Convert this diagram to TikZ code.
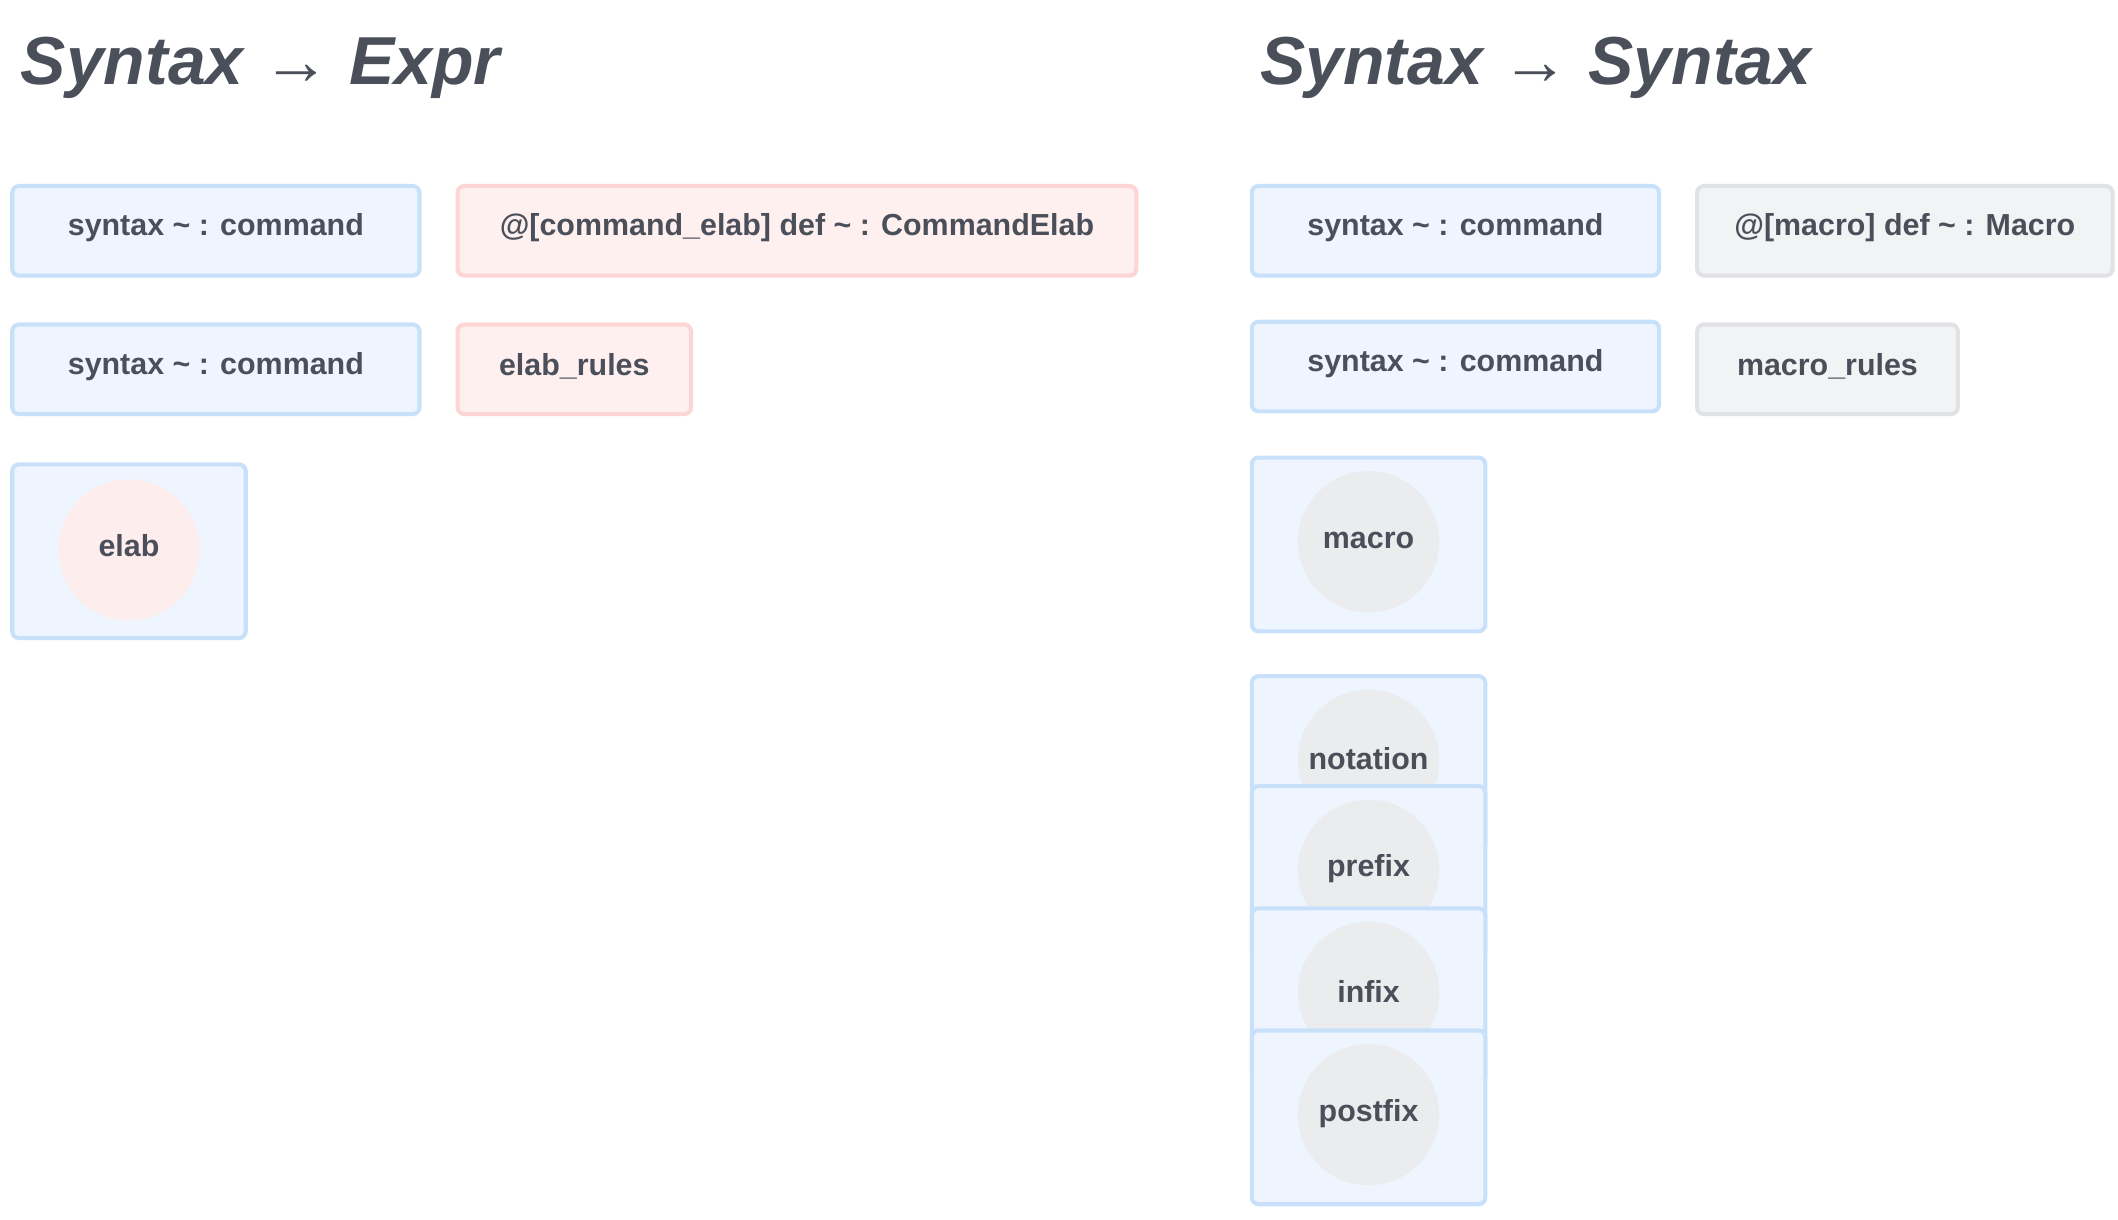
\documentclass[tikz,border=0pt]{standalone}
\usepackage{fontspec}
\setmainfont{Liberation Sans}
\begin{document}
\begin{tikzpicture}[x=0.5pt,y=-0.5pt]
\definecolor{txt}{HTML}{4A4F5A}
\definecolor{bfill}{HTML}{EEF5FE}\definecolor{bdraw}{HTML}{C9E0FB}
\definecolor{rfill}{HTML}{FFF0F0}\definecolor{rdraw}{HTML}{FDD5D5}
\definecolor{gfill}{HTML}{F2F3F5}\definecolor{gdraw}{HTML}{E0E2E5}
\definecolor{gcirc}{HTML}{EBECEE}\definecolor{rcirc}{HTML}{FDEDED}
\tikzset{
 box/.style={rounded corners=2.5pt,line width=1.5pt},
 bluebox/.style={box,fill=bfill,draw=bdraw},
 redbox/.style={box,fill=rfill,draw=rdraw},
 graybox/.style={box,fill=gfill,draw=gdraw},
 lbl/.style={text=txt,font=\fontsize{11.2}{13}\selectfont\bfseries,inner sep=0pt},
 ttl/.style={text=txt,font=\fontsize{25}{30}\selectfont\bfseries\itshape,anchor=base west,inner sep=0pt}
}
\useasboundingbox (0,0) rectangle (1560,898);
\node[ttl] (t1) at (15,62) {Syntax {\upshape\mdseries →} Expr};
\node[ttl] (t2) at (928,62) {Syntax {\upshape\mdseries →} Syntax};
% left
\draw[bluebox] (9,137) rectangle (309,203); \node[lbl] (a1) at (159,168) {syntax \textasciitilde{} : command};
\draw[redbox] (337,137) rectangle (837,203); \node[lbl] (a2) at (587,168) {@[command\_elab] def \textasciitilde{} : CommandElab};
\draw[bluebox] (9,239) rectangle (309,305); \node[lbl] (a3) at (159,270) {syntax \textasciitilde{} : command};
\draw[redbox] (337,239) rectangle (509,305); \node[lbl] (a4) at (423,270) {elab\_rules};
\draw[bluebox] (9,342) rectangle (181,470);
\fill[rcirc] (95,405) circle (52); \node[lbl] (a5) at (95,402) {elab};
% right
\draw[bluebox] (922,137) rectangle (1222,203); \node[lbl] (b1) at (1072,168) {syntax \textasciitilde{} : command};
\draw[graybox] (1250,137) rectangle (1556,203); \node[lbl] (b2) at (1403,168) {@[macro] def \textasciitilde{} : Macro};
\draw[bluebox] (922,237) rectangle (1222,303); \node[lbl] (b3) at (1072,268) {syntax \textasciitilde{} : command};
\draw[graybox] (1250,239) rectangle (1442,305); \node[lbl] (b4) at (1346,270) {macro\_rules};
\foreach \top/\name/\nm in {337/macro/m1,498/notation/m2,579/prefix/m3,669/infix/m4,759/postfix/m5}{
 \draw[bluebox] (922,\top) rectangle (1094,\top+128);
 \fill[gcirc] (1008,\top+62) circle (52);
 \node[lbl] (\nm) at (1008,\top+61) {\name};
}
\end{tikzpicture}
\end{document}
